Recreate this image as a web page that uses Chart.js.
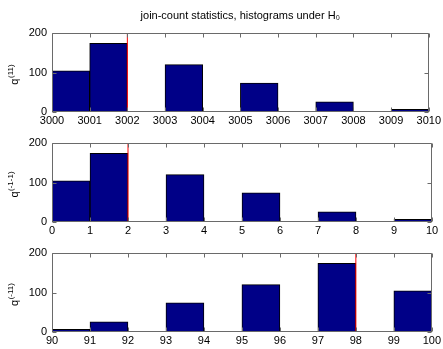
<!DOCTYPE html>
<html>
<head>
<meta charset="utf-8">
<script src="https://cdn.jsdelivr.net/npm/chart.js@4"></script>
<style>
  html, body { margin: 0; padding: 0; background: #fff; }
  #wrap { position: relative; width: 443px; height: 349px; overflow: hidden; }
  canvas { position: absolute; left: 0; }
</style>
</head>
<body>
<div id="wrap">
  <canvas id="c1" width="443" height="130" style="top:0px"></canvas>
  <canvas id="c2" width="443" height="110" style="top:130px"></canvas>
  <canvas id="c3" width="443" height="109" style="top:240px"></canvas>
</div>
<script>
// Join-count statistics: simulated distributions under the null hypothesis
const titleText = 'join-count statistics, histograms under H\u2080';

// bin edges (also the x tick labels) for each panel
const edges11   = [3000, 3001, 3002, 3003, 3004, 3005, 3006, 3007, 3008, 3009, 3010];
const edgesM1M1 = [0, 1, 2, 3, 4, 5, 6, 7, 8, 9, 10];
const edgesM11  = [90, 91, 92, 93, 94, 95, 96, 97, 98, 99, 100];

// counts per bin
const counts11   = [104, 174, 0, 120, 0, 73, 0, 26, 0, 7];
const countsM1M1 = [104, 174, 0, 120, 0, 74, 0, 26, 0, 7];
const countsM11  = [7, 26, 0, 74, 0, 120, 0, 174, 0, 104];

// observed statistic for each panel (red marker)
const observed = [3002, 2, 98];

// y axis
const yTicks = [0, 100, 200];
const yNames = [['q', '(11)'], ['q', '(-1-1)'], ['q', '(-11)']];

const FONT = "'Liberation Sans', Arial, sans-serif";
const BAR_FILL = 'rgb(0,0,135)';
const AXIS_COL = '#6a6a6a';

// box around the plot area with inward tick marks on all four sides
const framePlugin = {
  id: 'frame',
  afterDatasetsDraw(chart) {
    const { ctx, chartArea: a, scales } = chart;
    const L = Math.round(a.left) + 0.5, R = Math.round(a.right) - 0.5;
    const T = Math.round(a.top) + 0.5, B = Math.round(a.bottom) - 0.5;
    ctx.save();
    ctx.strokeStyle = AXIS_COL;
    ctx.lineWidth = 1;
    ctx.beginPath();
    ctx.rect(L, T, R - L, B - T);
    const tl = 4;
    scales.x.ticks.forEach(t => {
      const px = Math.round(scales.x.getPixelForValue(t.value)) + 0.5;
      ctx.moveTo(px, B); ctx.lineTo(px, B - tl);
      ctx.moveTo(px, T); ctx.lineTo(px, T + tl);
    });
    scales.y.ticks.forEach(t => {
      const py = Math.round(scales.y.getPixelForValue(t.value)) + 0.5;
      ctx.moveTo(L, py); ctx.lineTo(L + tl, py);
      ctx.moveTo(R, py); ctx.lineTo(R - tl, py);
    });
    ctx.stroke();
    ctx.restore();
  }
};

// rotated y axis name with a raised superscript
const yNamePlugin = {
  id: 'yName',
  afterDraw(chart, args, opts) {
    const { ctx, chartArea: a } = chart;
    const base = opts.base, sup = opts.sup;
    ctx.save();
    ctx.fillStyle = '#000';
    ctx.textBaseline = 'alphabetic';
    ctx.textAlign = 'left';
    ctx.font = '11px ' + FONT;
    const wb = ctx.measureText(base).width;
    ctx.font = '8px ' + FONT;
    const ws = ctx.measureText(sup).width;
    const total = wb + ws + 0.5;
    ctx.translate(opts.x, (a.top + a.bottom) / 2 + 2);
    ctx.rotate(-Math.PI / 2);
    ctx.font = '11px ' + FONT;
    ctx.fillText(base, -total / 2, 0);
    ctx.font = '8px ' + FONT;
    ctx.fillText(sup, -total / 2 + wb + 0.5, -5);
    ctx.restore();
  }
};

function makePanel(id, edges, counts, mark, name, opts) {
  const bars = counts.map((c, i) => ({ x: (edges[i] + edges[i + 1]) / 2, y: c }));
  const cfg = {
    type: 'bar',
    data: {
      datasets: [
        {
          type: 'line',
          data: [{ x: mark, y: yTicks[0] }, { x: mark, y: yTicks[yTicks.length - 1] }],
          borderColor: '#ff0000',
          borderWidth: 1,
          pointRadius: 0,
          order: -1
        },
        {
          type: 'bar',
          data: bars,
          backgroundColor: BAR_FILL,
          borderColor: '#000',
          borderWidth: 1,
          borderSkipped: false,
          barPercentage: 1,
          categoryPercentage: 1,
          order: 1
        }
      ]
    },
    options: {
      responsive: false,
      animation: false,
      devicePixelRatio: 1,
      layout: { padding: { left: 0, right: 11, top: opts.padTop, bottom: 0 } },
      plugins: {
        legend: { display: false },
        tooltip: { enabled: false },
        title: opts.title ? {
          display: true,
          text: titleText,
          fullSize: false,
          color: '#000',
          font: { family: FONT, size: 11, weight: 'normal' },
          padding: { top: 9, bottom: 10.8 }
        } : { display: false },
        yName: { base: name[0], sup: name[1], x: 18 }
      },
      scales: {
        x: {
          type: 'linear',
          offset: false,
          min: edges[0],
          max: edges[edges.length - 1],
          grid: { display: false, drawTicks: false, offset: false },
          border: { display: false },
          afterBuildTicks: s => { s.ticks = edges.map(v => ({ value: v })); },
          afterFit: s => { s.height = opts.xH; },
          ticks: {
            autoSkip: false, maxRotation: 0, padding: 2, color: '#000',
            font: { family: FONT, size: 11 },
            callback: v => String(v)
          }
        },
        y: {
          min: yTicks[0],
          max: yTicks[yTicks.length - 1],
          grid: { display: false, drawTicks: false },
          border: { display: false },
          afterBuildTicks: s => { s.ticks = yTicks.map(v => ({ value: v })); },
          afterFit: s => { s.width = 52; },
          ticks: {
            padding: 5, color: '#000',
            font: { family: FONT, size: 11 },
            callback: v => String(v)
          }
        }
      }
    },
    plugins: [framePlugin, yNamePlugin]
  };
  return new Chart(document.getElementById(id), cfg);
}

makePanel('c1', edges11, counts11, observed[0], yNames[0], { title: true, padTop: 0, xH: 18 });
makePanel('c2', edgesM1M1, countsM1M1, observed[1], yNames[1], { title: false, padTop: 13, xH: 18 });
makePanel('c3', edgesM11, countsM11, observed[2], yNames[2], { title: false, padTop: 13, xH: 17 });
</script>
</body>
</html>
